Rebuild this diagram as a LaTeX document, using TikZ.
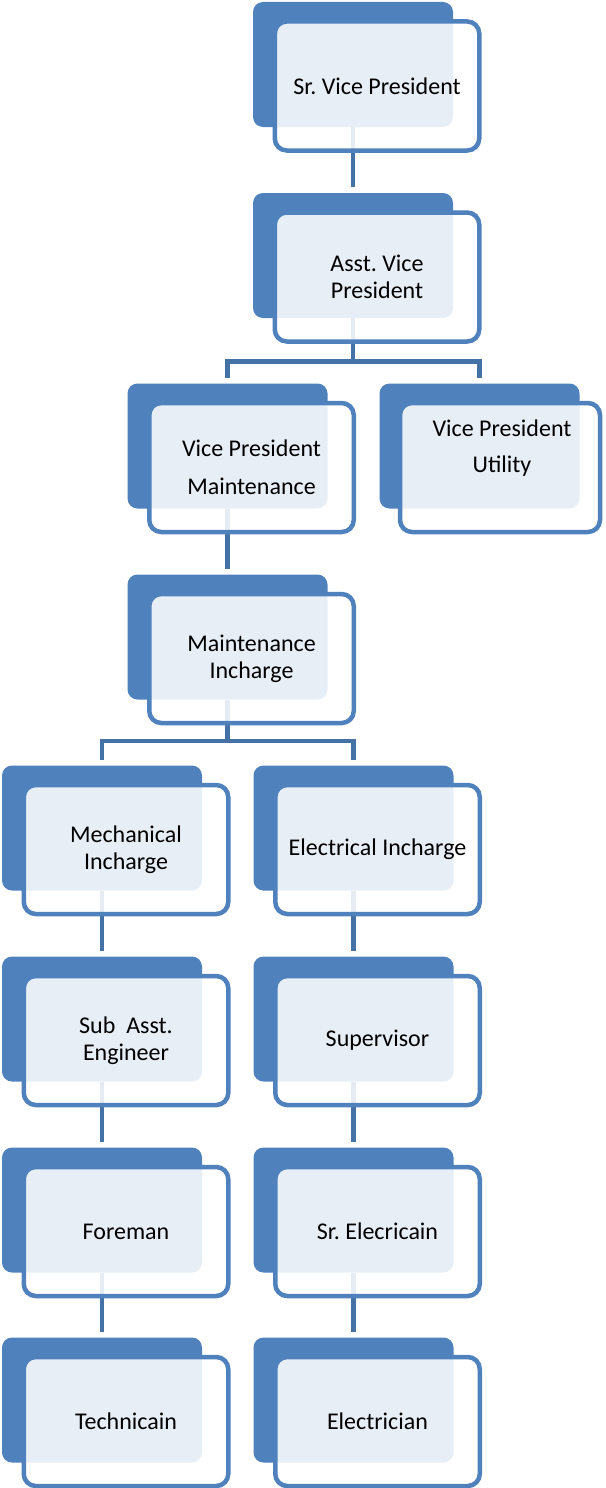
\documentclass[tikz,border=0pt]{standalone}
\usepackage{fontspec}
\setmainfont{Carlito}
\usetikzlibrary{calc,backgrounds}
\frenchspacing
\definecolor{backblue}{RGB}{79,129,189}
\definecolor{linkblue}{RGB}{68,114,166}
\tikzset{
  backbox/.style={fill=backblue, rounded corners=10pt, minimum width=200pt,
    minimum height=125pt, inner sep=0pt, outer sep=0pt},
  frontbox/.style={draw=backblue, line width=4.5pt, fill=white, fill opacity=0.87,
    rounded corners=12pt, minimum width=204.5pt, minimum height=129pt,
    inner sep=0pt, outer sep=0pt},
  boxtext/.style={align=center, inner sep=0pt, font=\fontsize{24}{27}\selectfont},
  conn/.style={draw=linkblue, line width=4.5pt},
}
% one unit: a solid back card with a framed, translucent card on top of it
\newcommand\orgunit[6][]{%
  \node[backbox] (b#2) at (#3,#4) {};
  \node[frontbox,#1] (f#2) at ($(b#2.center)+(24,21.5)$) {};
  \node[boxtext,#6] (t#2) at (f#2.center) {#5};
}
\begin{document}
\begin{tikzpicture}[x=1pt,y=-1pt]
  \useasboundingbox (0,0) rectangle (605,1488);
  \clip (0,0) rectangle (605,1488);

  \orgunit{1}{353}{64.5}{Sr. Vice President}{}
  \orgunit{2}{353}{255.5}{Asst. Vice\\President}{}
  \orgunit{3}{227.5}{446}{Vice President\\Maintenance}{font=\fontsize{24}{38}\selectfont}
  \orgunit[minimum width=200pt, xshift=-3.5pt]{4}{479.5}{446}{Vice President\\Utility}%
    {font=\fontsize{24}{36}\selectfont, xshift=2pt, yshift=19pt}
  \orgunit{5}{227.5}{637}{Maintenance\\Incharge}{}
  \orgunit{6}{102}{828}{Mechanical\\Incharge}{}
  \orgunit{7}{353.5}{828}{Electrical Incharge}{}
  \orgunit{8}{102}{1019}{Sub\ \ Asst.\\Engineer}{}
  \orgunit{9}{353.5}{1019}{Supervisor}{}
  \orgunit{10}{102}{1210}{Foreman}{}
  \orgunit{11}{353.5}{1210}{Sr. Elecricain}{}
  \orgunit{12}{102}{1400}{Technicain}{}
  \orgunit{13}{353.5}{1400}{Electrician}{}

  \begin{scope}[on background layer]
    % junction points of the branching connectors
    \coordinate (j2) at ($(b2.center |- f2.south)+(0,20)$);
    \coordinate (j5) at ($(b5.center |- f5.south)+(0,18)$);

    \draw[conn] (b1.south) -- ([yshift=6pt]b2.north);
    \draw[conn] (b2.south) -- (j2);
    \draw[conn] (j2) -| ([yshift=6pt]b3.north);
    \draw[conn] (j2) -| ([yshift=6pt]b4.north);
    \draw[conn] (b3.south) -- ([yshift=6pt]b5.north);
    \draw[conn] (b5.south) -- (j5);
    \draw[conn] (j5) -| ([yshift=6pt]b6.north);
    \draw[conn] (j5) -| ([yshift=6pt]b7.north);
    \draw[conn] (b6.south) -- ([yshift=6pt]b8.north);
    \draw[conn] (b8.south) -- ([yshift=6pt]b10.north);
    \draw[conn] (b10.south) -- ([yshift=6pt]b12.north);
    \draw[conn] (b7.south) -- ([yshift=6pt]b9.north);
    \draw[conn] (b9.south) -- ([yshift=6pt]b11.north);
    \draw[conn] (b11.south) -- ([yshift=6pt]b13.north);
  \end{scope}
\end{tikzpicture}
\end{document}
